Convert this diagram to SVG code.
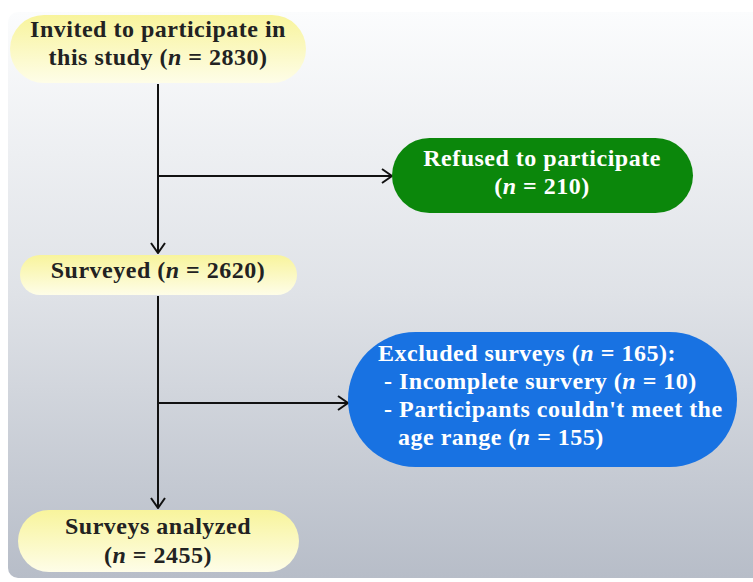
<svg xmlns="http://www.w3.org/2000/svg" width="753" height="582" viewBox="0 0 753 582">
<defs>
<linearGradient id="bg" x1="0" y1="0" x2="0" y2="1">
<stop offset="0" stop-color="#fbfcfd"/>
<stop offset="0.5" stop-color="#dfe2e7"/>
<stop offset="1" stop-color="#b7bdc8"/>
</linearGradient>
<linearGradient id="yel" x1="0" y1="0" x2="0" y2="1">
<stop offset="0" stop-color="#f8f49c"/>
<stop offset="1" stop-color="#fefde8"/>
</linearGradient>
<marker id="arr" viewBox="0 0 12 16" refX="11" refY="8" markerWidth="12" markerHeight="16" markerUnits="userSpaceOnUse" orient="auto">
<path d="M1,1 L11,8 L1,15" fill="none" stroke="#111" stroke-width="2"/>
</marker>
</defs>
<style>
text{font-family:"Liberation Serif","Times New Roman",serif;font-weight:bold;font-size:24px;letter-spacing:0.5px}
.dk{fill:#222}
.wh{fill:#fff}
.c{text-anchor:middle}
.ln{fill:none;stroke:#111;stroke-width:2}
</style>
<rect width="753" height="582" fill="#fff"/>
<rect x="8" y="12" width="760" height="566" rx="10" fill="url(#bg)"/>
<g id="connectors">
<line class="ln" x1="158" y1="84" x2="158" y2="253" marker-end="url(#arr)"/>
<line class="ln" x1="158" y1="176" x2="392" y2="176" marker-end="url(#arr)"/>
<line class="ln" x1="158" y1="296" x2="158" y2="508" marker-end="url(#arr)"/>
<line class="ln" x1="158" y1="403" x2="348" y2="403" marker-end="url(#arr)"/>
</g>
<g id="invited">
<rect x="10" y="15" width="296" height="68" rx="34" fill="url(#yel)"/>
<text class="dk c" x="158" y="37">Invited to participate in</text>
<text class="dk c" x="158" y="65">this study (<tspan font-style="italic">n</tspan> = 2830)</text>
</g>
<g id="refused">
<rect x="392" y="138" width="301" height="75" rx="37.5" fill="#0b870b"/>
<text class="wh c" x="542" y="166">Refused to participate</text>
<text class="wh c" x="542" y="194">(<tspan font-style="italic">n</tspan> = 210)</text>
</g>
<g id="surveyed">
<rect x="20" y="255" width="277" height="40" rx="20" fill="url(#yel)"/>
<text class="dk c" x="158" y="278">Surveyed (<tspan font-style="italic">n</tspan> = 2620)</text>
</g>
<g id="excluded">
<rect x="348" y="332" width="389" height="135" rx="67.5" fill="#1872e2"/>
<text class="wh" x="378" y="361">Excluded surveys (<tspan font-style="italic">n</tspan> = 165):</text>
<text class="wh" x="384" y="389">- Incomplete survery (<tspan font-style="italic">n</tspan> = 10)</text>
<text class="wh" x="384" y="417">- Participants couldn't meet the</text>
<text class="wh" x="398" y="445">age range (<tspan font-style="italic">n</tspan> = 155)</text>
</g>
<g id="analyzed">
<rect x="18" y="510" width="281" height="62" rx="31" fill="url(#yel)"/>
<text class="dk c" x="158" y="534">Surveys analyzed</text>
<text class="dk c" x="158" y="563">(<tspan font-style="italic">n</tspan> = 2455)</text>
</g>
</svg>
